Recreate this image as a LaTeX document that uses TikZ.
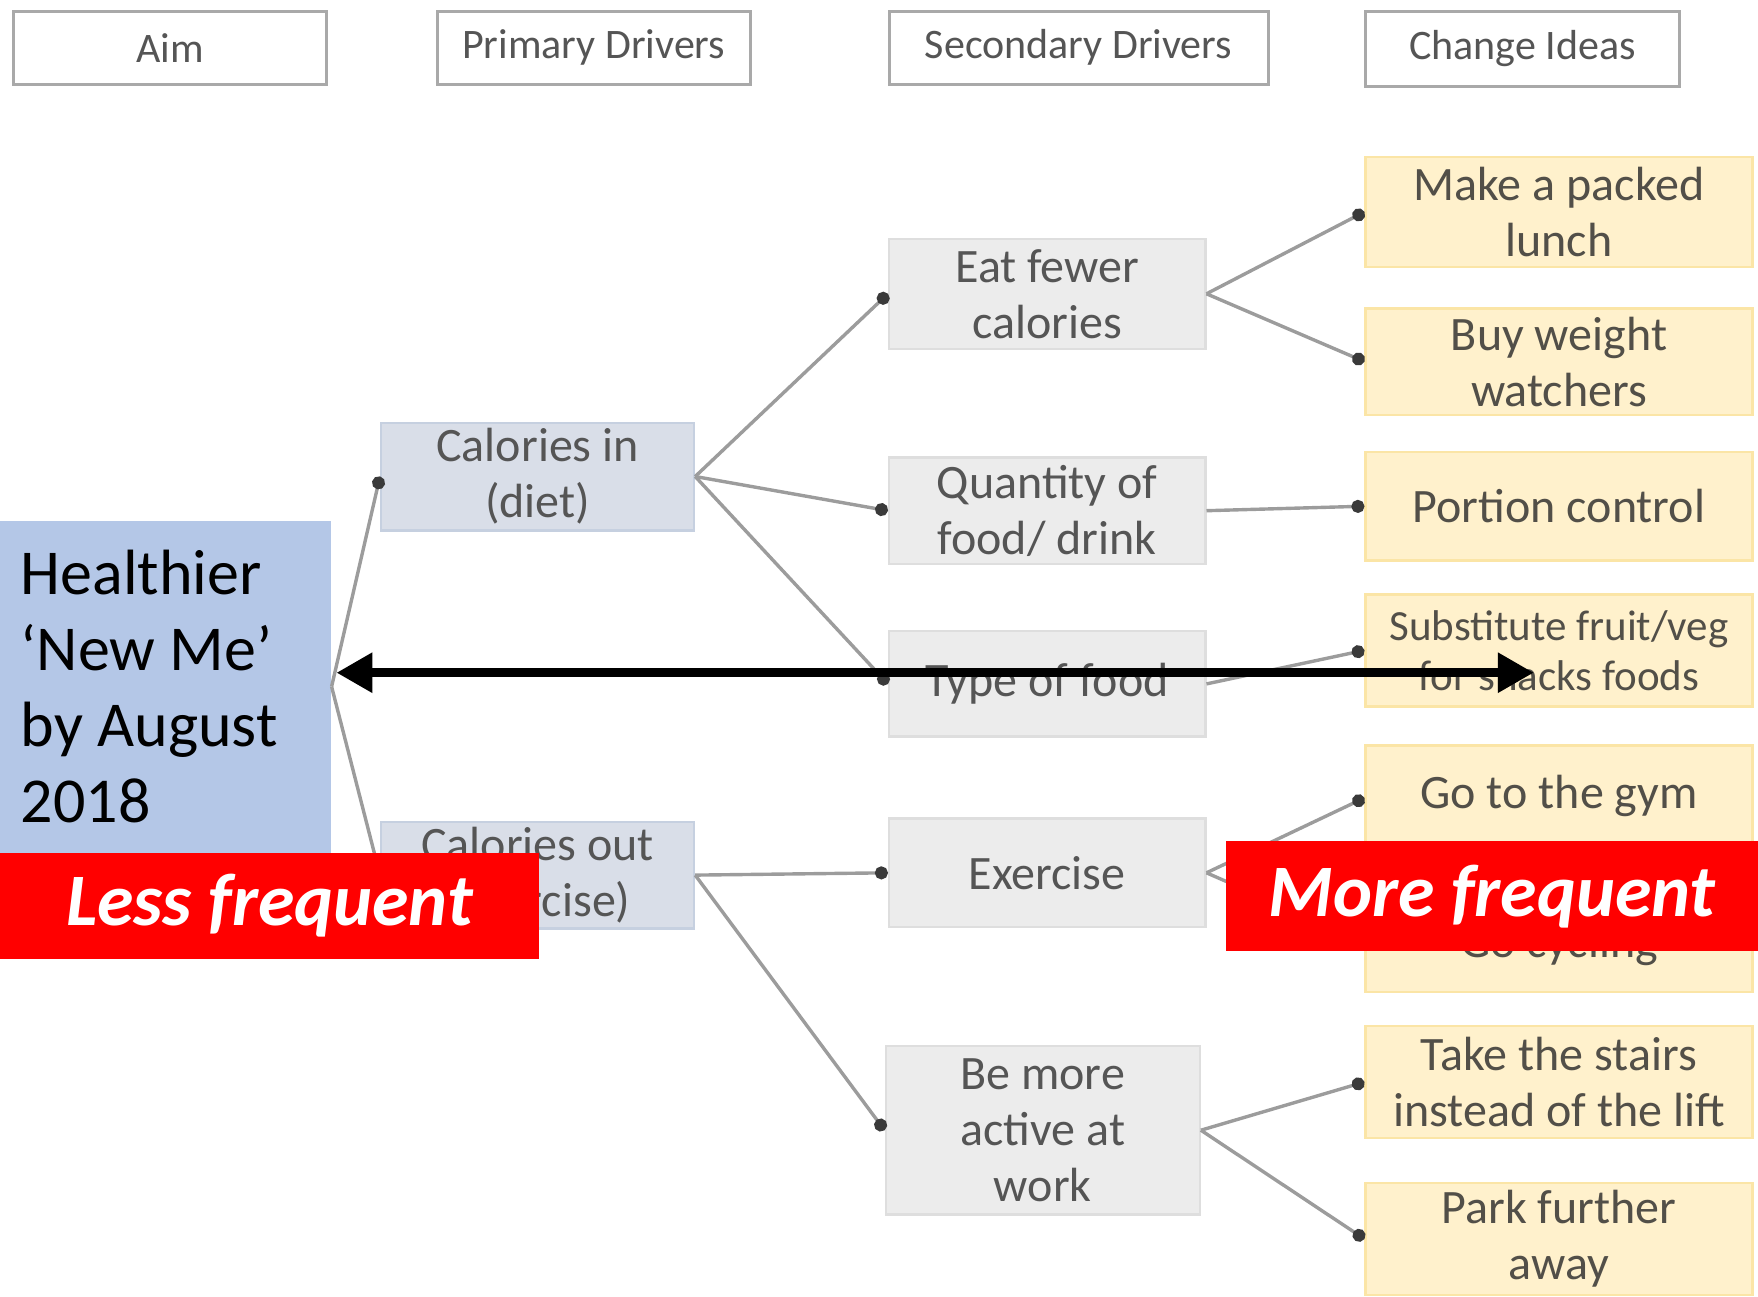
\documentclass[tikz,border=0pt]{standalone}
\usepackage{fontspec}
\setmainfont{Carlito}
\usetikzlibrary{arrows.meta,calc}

\definecolor{hdrline}{HTML}{A9A9A9}
\definecolor{txtgrey}{HTML}{555555}
\definecolor{primfill}{HTML}{D9DEE8}
\definecolor{primline}{HTML}{C6D0E0}
\definecolor{secfill}{HTML}{ECECEC}
\definecolor{secline}{HTML}{DEDEDE}
\definecolor{ideafill}{HTML}{FFF1CC}
\definecolor{idealine}{HTML}{FBE5A6}
\definecolor{ideatxt}{HTML}{524F48}
\definecolor{linkgrey}{HTML}{9C9C9C}
\definecolor{dotgrey}{HTML}{3A3A3A}
\definecolor{aimfill}{HTML}{B4C7E7}

\begin{document}
\begin{tikzpicture}[x=0.5pt,y=-0.5pt,
  hdr/.style={draw=hdrline, line width=1.6pt, fill=white, inner sep=0pt,
    font=\fontsize{21}{25}\selectfont, text=txtgrey},
  prim/.style={draw=primline, line width=1.2pt, fill=primfill, inner sep=0pt,
    align=center, font=\fontsize{24}{28}\selectfont, text=txtgrey,
    minimum width=156.4pt},
  sec/.style={draw=secline, line width=1.2pt, fill=secfill, inner sep=0pt,
    align=center, font=\fontsize{24}{28}\selectfont, text=txtgrey,
    minimum width=158.1pt},
  idea/.style={draw=idealine, line width=1.2pt, fill=ideafill, inner sep=0pt,
    align=center, font=\fontsize{24}{28}\selectfont, text=ideatxt,
    minimum width=193.4pt},
  ideatext/.style={inner sep=0pt, font=\fontsize{24}{28}\selectfont, text=ideatxt},
  link/.style={draw=linkgrey, line width=1.7pt,
    -{Circle[length=6.5pt, color=dotgrey]}},
  aimbox/.style={fill=aimfill, inner sep=0pt, inner xsep=10pt, align=flush left,
    font=\fontsize{32}{38}\selectfont, text=black},
  redtag/.style={fill=red, inner sep=0pt, text=white,
    font=\fontsize{37}{42}\selectfont\bfseries\itshape},
  bigarrow/.style={line width=4.5pt,
    {Triangle[length=18pt,width=19pt]}-{Triangle[length=18pt,width=19pt]}}
]
\useasboundingbox (0,0) rectangle (1758,1297);

% column headings
\node[hdr, minimum width=156.4pt, minimum height=36.4pt] (hAim) at (169.9,47.7) {Aim};
\node[hdr, minimum width=156.4pt, minimum height=36.4pt] (hPrim) at (593.7,47.7) {Primary Drivers};
\node[hdr, minimum width=189.5pt, minimum height=36.4pt] (hSec) at (1078.6,47.7) {Secondary Drivers};
\node[hdr, minimum width=157pt, minimum height=37.5pt] (hIdea) at (1522.6,48.7) {Change Ideas};

% primary drivers
\node[prim, minimum height=53.8pt] (calin) at (537.6,476.5) {Calories in\\(diet)};
\node[prim, minimum height=53.3pt] (calout) at (537.6,875.1) {Calories out\\(exercise)};

% secondary drivers
\node[sec, minimum height=55pt] (fewer) at (1047.2,293.8) {Eat fewer\\calories};
\node[sec, minimum height=53.3pt] (quant) at (1047.2,510.7) {Quantity of\\food/ drink};
\node[sec, minimum height=52.7pt] (type) at (1047.2,683.9) {Type of food};
\node[sec, minimum height=54.4pt] (exer) at (1047.2,872.8) {Exercise};
\node[sec, minimum width=157pt, minimum height=84.1pt] (active) at (1042.7,1130.2) {Be more\\active at\\work};

% change ideas
\node[idea, minimum height=55pt] (lunch) at (1559,211.9) {Make a packed\\lunch};
\node[idea, minimum height=53.3pt] (ww) at (1559,361.6) {Buy weight\\watchers};
\node[idea, minimum height=54.4pt] (portion) at (1559,506.2) {Portion control};
\node[idea, minimum height=56pt, font=\fontsize{21.5}{25}\selectfont] (subst) at (1559,650.3) {Substitute fruit/veg\\for snacks foods};
\node[idea, minimum height=123.3pt] (gym) at (1559,868.9) {};
\node[ideatext] (gymtxt) at ([yshift=36.5pt]gym.center) {Go to the gym};
\node[ideatext] (cycletxt) at ([yshift=-38pt]gym.center) {Go cycling};
\node[idea, minimum height=56pt] (stairs) at (1559,1082) {Take the stairs\\instead of the lift};
\node[idea, minimum height=56pt] (park) at (1559,1238.9) {Park further\\away};

\coordinate (gymtop) at ([yshift=35.5pt]gym.west);
\coordinate (gymbot) at ([yshift=-36.5pt]gym.west);

% aim
\node[aimbox, anchor=north west, minimum width=165.4pt, minimum height=166pt,
  text width=145pt] (aim) at (0,520.2)
  {Healthier\\‘New Me’\\by August\\2018};

% driver links
\draw[link] (aim.east) -- (calin.west);
\draw[link] (aim.east) -- (calout.west);
\draw[link] (calin.east) -- (fewer.west);
\draw[link] (calin.east) -- (quant.west);
\draw[link] (calin.east) -- (type.west);
\draw[link] (calout.east) -- (exer.west);
\draw[link] (calout.east) -- (active.west);
\draw[link] (fewer.east) -- (lunch.west);
\draw[link] (fewer.east) -- (ww.west);
\draw[link] (quant.east) -- (portion.west);
\draw[link] (type.east) -- (subst.west);
\draw[link] (exer.east) -- (gymtop);
\draw[link] (exer.east) -- (gymbot);
\draw[link] (active.east) -- (stairs.west);
\draw[link] (active.east) -- (park.west);

% frequency scale
\coordinate (arrL) at (336.4,672.7);
\coordinate (arrR) at (1533.8,672.7);
\draw[bigarrow] (arrL) -- (arrR);

\node[redtag, anchor=north west, minimum width=269.1pt, minimum height=53.3pt] (less) at (0,852.1) {Less frequent};
\node[redtag, anchor=north west, minimum width=266.25pt, minimum height=55pt] (more) at (1225.5,840.9) {More frequent};
\end{tikzpicture}
\end{document}
